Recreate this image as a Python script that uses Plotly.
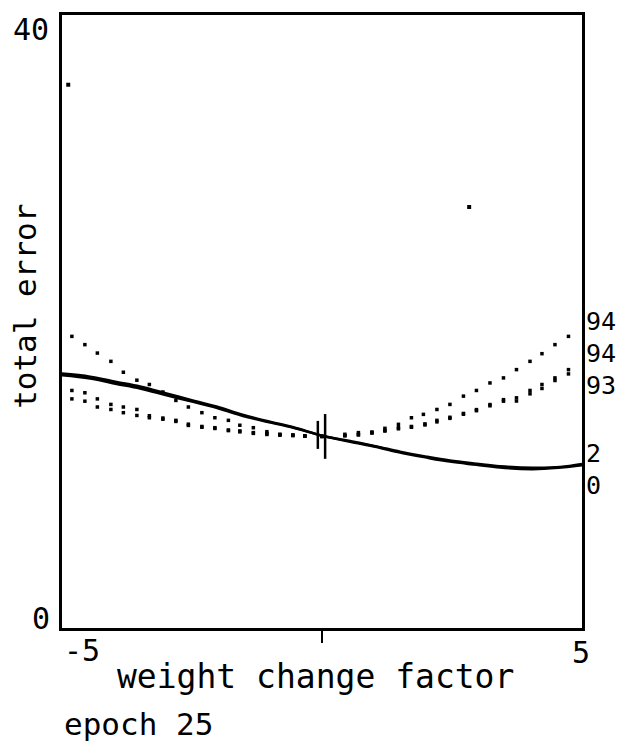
import plotly.graph_objects as go

# ---- data ----
curve_a_x = [-4.81, -4.56, -4.32, -4.06, -3.82, -3.56, -3.32, -3.06, -2.81, -2.57, -2.31, -2.06, -1.80,
             -1.58, -1.32, -1.06, -0.81, -0.56, -0.33, 0.0, 0.44, 0.70, 0.96, 1.21, 1.47, 1.72, 1.95,
             2.21, 2.46, 2.72, 2.97, 3.23, 3.49, 3.74, 4.00, 4.23, 4.48, 4.74]
curve_a_y = [19.03, 18.49, 17.94, 17.40, 16.69, 16.17, 15.89, 15.40, 14.85, 14.42, 14.05, 13.72, 13.55,
             13.23, 13.07, 12.81, 12.64, 12.60, 12.53, 12.50, 12.64, 12.75, 12.79, 13.03, 13.29, 13.72, 13.94,
             14.26, 14.59, 15.13, 15.50, 15.99, 16.32, 16.86, 17.40, 17.90, 18.49, 19.03]

curve_bc_x = [-4.81, -4.56, -4.32, -4.06, -3.82, -3.56, -3.32, -3.06, -2.81, -2.57, -2.31, -2.06, -1.80,
              -1.58, -1.32, -1.06, -0.81, -0.56, -0.33, 0.0, 0.44, 0.70, 0.96, 1.21, 1.47, 1.72, 1.98,
              2.21, 2.46, 2.72, 2.97, 3.23, 3.49, 3.74, 4.00, 4.23, 4.48, 4.74]
curve_b_y = [15.50, 15.35, 14.95, 14.59, 14.42, 14.26, 13.85, 13.70, 13.55, 13.30, 13.15, 13.07, 12.92,
             12.86, 12.75, 12.68, 12.62, 12.58, 12.53, 12.50, 12.55, 12.62, 12.75, 12.90, 13.07, 13.15, 13.32,
             13.55, 13.75, 14.00, 14.25, 14.58, 14.90, 15.02, 15.50, 15.89, 16.32, 16.86]
curve_c_y = [14.95, 14.80, 14.42, 14.26, 14.05, 13.87, 13.72, 13.62, 13.48, 13.22, 13.10, 13.02, 12.88,
             12.80, 12.70, 12.63, 12.58, 12.55, 12.52, 12.50, 12.55, 12.60, 12.72, 12.85, 13.00, 13.10, 13.25,
             13.45, 13.68, 13.95, 14.18, 14.50, 14.80, 14.81, 15.28, 15.63, 16.15, 16.58]

solid_x = [-5.0, -4.46, -3.95, -3.5, -2.99, -2.54, -2.03, -1.58, -1.06, -0.55, 0.0, 0.54, 1.05, 1.5,
           2.01, 2.46, 2.97, 3.42, 4.06, 4.58, 5.0]
solid_0_y = [16.49, 16.28, 15.93, 15.63, 15.19, 14.81, 14.37, 13.90, 13.46, 13.07, 12.55, 12.16, 11.82,
             11.45, 11.12, 10.86, 10.65, 10.47, 10.37, 10.47, 10.62]
solid_2_y = [16.60, 16.40, 16.05, 15.75, 15.30, 14.90, 14.45, 13.97, 13.50, 13.10, 12.55, 12.20, 11.85,
             11.50, 11.18, 10.93, 10.72, 10.55, 10.45, 10.50, 10.70]

stray_x = [-4.88, 2.83]
stray_y = [35.45, 27.47]

cross_x = [0.06]
cross_y = [12.5]

end_labels = ["94", "94", "93", "2", "0"]
end_label_pos = [0.500, 0.448, 0.396, 0.284, 0.232]

FONT = "DejaVu Sans Mono"

fig = go.Figure()

dot = dict(color="black", size=3.5, symbol="square")
fig.add_trace(go.Scatter(x=curve_a_x, y=curve_a_y, mode="markers", marker=dot, showlegend=False))
for ys in (curve_b_y, curve_c_y):
    fig.add_trace(go.Scatter(x=curve_bc_x, y=ys, mode="markers", marker=dot, showlegend=False))

for ys in (solid_0_y, solid_2_y):
    fig.add_trace(go.Scatter(x=solid_x, y=ys, mode="lines",
                             line=dict(color="black", width=2.6, shape="spline"), showlegend=False))

fig.add_trace(go.Scatter(x=stray_x, y=stray_y, mode="markers",
                         marker=dict(color="black", size=4, symbol="square"), showlegend=False))
fig.add_trace(go.Scatter(x=cross_x, y=cross_y, mode="markers",
                         marker=dict(symbol="line-ns", size=32, line=dict(color="black", width=2.5)),
                         showlegend=False))
fig.add_trace(go.Scatter(x=[-0.08], y=[12.6], mode="markers",
                         marker=dict(symbol="line-ns", size=20, line=dict(color="black", width=2.5)),
                         showlegend=False))

fig.update_xaxes(range=[-5, 5], showgrid=False, zeroline=False, showline=True, mirror=True,
                 linecolor="black", linewidth=3, tickvals=[0], ticks="outside", ticklen=12,
                 tickwidth=2, tickcolor="black", showticklabels=False)
fig.update_yaxes(range=[0, 40], showgrid=False, zeroline=False, showline=True, mirror=True,
                 linecolor="black", linewidth=3, showticklabels=False, ticks="")

ann = []
def add(text, x, y, xa="center", ya="middle", size=30, angle=0):
    ann.append(dict(text=text, x=x, y=y, xref="paper", yref="paper", xanchor=xa, yanchor=ya,
                    showarrow=False, textangle=angle, font=dict(family=FONT, size=size, color="black")))

add("40", -0.021, 0.9756, xa="right")
add("0", -0.019, 0.016, xa="right")
add("-5", 0.0, -0.036, xa="left")
add("5", 0.998, -0.040)
add("weight change factor", 0.488, -0.0795, size=33)
add("epoch 25", 0.0, -0.157, xa="left", size=31)
add("total error", -0.071, 0.524, size=31, angle=-90)
for t, p in zip(end_labels, end_label_pos):
    add(t, 1.004, p, xa="left", size=25)

fig.update_layout(width=630, height=749, margin=dict(l=62, r=48, t=12, b=121),
                  paper_bgcolor="white", plot_bgcolor="white", annotations=ann)

fig.write_html("out.html")
